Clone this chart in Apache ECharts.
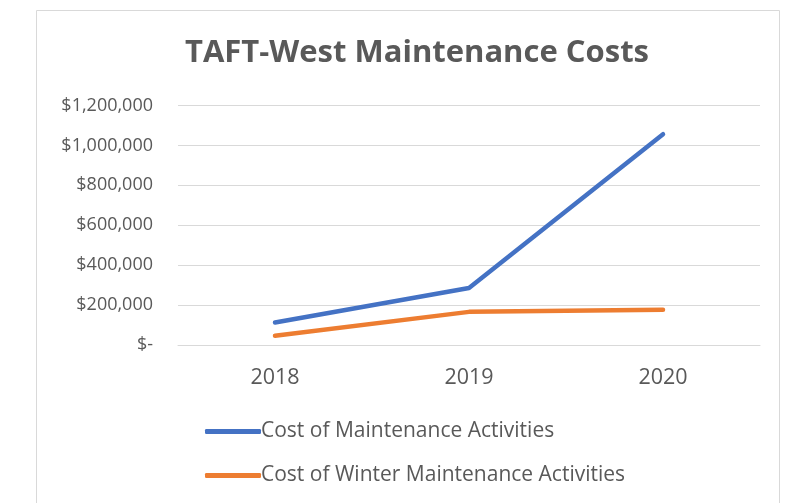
<!DOCTYPE html>
<html><head><meta charset="utf-8">
<script src="https://cdn.jsdelivr.net/npm/echarts@6/dist/echarts.min.js"></script>
<style>html,body{margin:0;padding:0;background:#fff}#c{width:793px;height:503px}</style>
</head><body><div id="c"></div>
<script>
const categories = ['2018', '2019', '2020'];
const maintenanceCost = [113000, 286000, 1056000];
const winterCost = [46000, 166000, 176000];
const seriesNames = ['Cost of Maintenance Activities', 'Cost of Winter Maintenance Activities'];
const yTicks = [0, 200000, 400000, 600000, 800000, 1000000, 1200000];

const font = '"Open Sans", sans-serif';
function fmt(v) {
  if (v === 0) return '$-';
  return '$' + v.toLocaleString('en-US');
}
const chart = echarts.init(document.getElementById('c'));
chart.setOption({
  animation: false,
  graphic: [{
    type: 'rect', shape: { x: 36.5, y: 10.5, width: 743, height: 520 },
    style: { fill: 'none', stroke: '#d9d9d9', lineWidth: 1 }, silent: true
  }],
  title: {
    text: 'TAFT-West Maintenance Costs', left: 412, top: 33, textAlign: 'center',
    textStyle: { fontFamily: font, fontWeight: 'bold', fontSize: 31, color: '#595959' }
  },
  grid: { left: 178, right: 33, top: 105.5, height: 239.5, containLabel: false },
  xAxis: {
    type: 'category', data: categories, boundaryGap: true,
    axisLine: { show: true, lineStyle: { color: '#d9d9d9', width: 1 } },
    axisTick: { show: false },
    axisLabel: { fontFamily: font, fontSize: 21.5, color: '#595959', margin: 22 }
  },
  yAxis: {
    type: 'value', min: yTicks[0], max: yTicks[yTicks.length - 1], interval: 200000,
    axisLine: { show: false }, axisTick: { show: false },
    splitLine: { lineStyle: { color: '#d9d9d9', width: 1 } },
    axisLabel: { fontFamily: font, fontSize: 18, color: '#595959', margin: 25, formatter: fmt }
  },
  legend: {
    orient: 'vertical', left: 200, top: 416, itemWidth: 56, itemHeight: 5, itemGap: 23,
    icon: 'roundRect',
    textStyle: { fontFamily: font, fontSize: 21, color: '#595959', padding: [0, 0, 0, -5] },
    data: seriesNames
  },
  series: [
    { name: seriesNames[0], type: 'line', data: maintenanceCost, showSymbol: false, symbol: 'none',
      lineStyle: { color: '#4472C4', width: 4.5, cap: 'round', join: 'round' }, itemStyle: { color: '#4472C4' } },
    { name: seriesNames[1], type: 'line', data: winterCost, showSymbol: false, symbol: 'none',
      lineStyle: { color: '#ED7D31', width: 4.5, cap: 'round', join: 'round' }, itemStyle: { color: '#ED7D31' } }
  ]
});
</script></body></html>
